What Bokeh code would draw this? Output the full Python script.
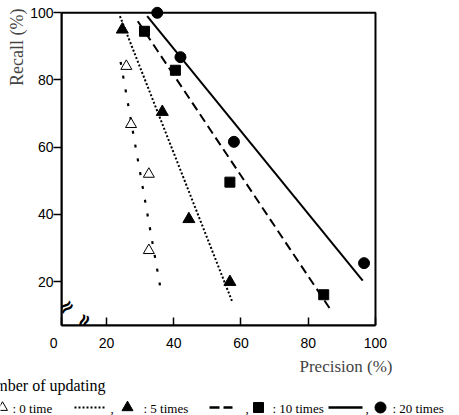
from bokeh.plotting import figure
from bokeh.models import Range1d, FixedTicker, BoxAnnotation, Title
from bokeh.layouts import column
from bokeh.core.properties import value
from bokeh.embed import file_html
from bokeh.resources import INLINE

# ---- data ----
tick_values = [20, 40, 60, 80, 100]
series_names = [": 0 time", ": 5 times", ": 10 times", ": 20 times"]

precision_0 = [25.9, 27.3, 32.6, 32.6]
recall_0 = [84.1, 66.8, 52.0, 29.3]
precision_5 = [24.7, 36.6, 44.5, 56.7]
recall_5 = [95.0, 70.5, 38.6, 19.9]
precision_10 = [31.3, 40.5, 56.7, 84.6]
recall_10 = [94.5, 82.9, 49.6, 16.1]
precision_20 = [35.1, 42.0, 57.9, 96.6]
recall_20 = [100.0, 86.8, 61.6, 25.5]

# fitted lines (end points)
fit_x_0 = [24.2, 36.1]
fit_y_0 = [85.4, 17.8]
fit_x_5 = [24.0, 57.4]
fit_y_5 = [99.0, 14.0]
fit_x_10 = [29.3, 86.4]
fit_y_10 = [97.5, 12.0]
fit_x_20 = [32.1, 96.2]
fit_y_20 = [99.0, 20.3]

# ---- layout ----
X0, X1 = 6.62, 101.49
Y0, Y1 = 6.94, 102.17
SERIF = "Liberation Serif"
SANS = "Liberation Sans"

p = figure(width=459, height=376, x_range=Range1d(X0, X1), y_range=Range1d(Y0, Y1),
           output_backend="svg", toolbar_location=None,
           min_border_left=61, min_border_right=79, min_border_top=5, min_border_bottom=50)
p.outline_line_color = None
p.grid.visible = False
p.title.visible = False
p.frame_align = False

for ax in (p.xaxis, p.yaxis):
    ax.axis_line_width = 2
    ax.axis_line_color = "black"
    ax.axis_line_alpha = 1
    ax.major_tick_line_width = 1.5
    ax.major_tick_line_color = "black"
    ax.minor_tick_line_color = None
    ax.major_label_text_font = SANS
    ax.major_label_text_font_size = "14px"
    ax.major_label_text_color = "black"

p.xaxis.ticker = FixedTicker(ticks=[X0] + tick_values)
p.xaxis.major_label_overrides = {X0: "0\u2007\u2007"}
p.yaxis.ticker = FixedTicker(ticks=tick_values)
p.xaxis.bounds = (X0, 100)
p.yaxis.bounds = (Y0, 100)
p.xaxis.major_tick_in = 8
p.xaxis.major_tick_out = 0
p.xaxis.major_label_standoff = 9
p.yaxis.major_tick_in = 0
p.yaxis.major_tick_out = 8
p.yaxis.major_label_standoff = 0

# axis titles placed like the reference
t_left = Title(text="Recall (%)", align="right", offset=3, text_font=SERIF,
               text_font_size="18px", text_font_style="normal", standoff=2)
p.add_layout(t_left, "left")
t_below = Title(text="Precision (%)", align="right", offset=-12, text_font=SERIF,
                text_font_size="17px", text_font_style="normal", standoff=2)
p.add_layout(t_below, "below")

# frame box (top and right borders)
p.add_layout(BoxAnnotation(left=X0, right=100, bottom=Y0, top=100,
                           fill_alpha=0, line_color="black", line_alpha=1, line_width=2))

# fitted lines
p.line(fit_x_0, fit_y_0, line_color="black", line_width=2.2, line_dash="3 11")
p.line(fit_x_5, fit_y_5, line_color="black", line_width=2, line_dash="2 2")
p.line(fit_x_10, fit_y_10, line_color="black", line_width=2, line_dash="9 5")
p.line(fit_x_20, fit_y_20, line_color="black", line_width=2)

# markers
p.scatter(precision_0, recall_0, marker="triangle", size=11, fill_color="white",
          line_color="black", line_width=1)
p.scatter(precision_5, recall_5, marker="triangle", size=12, fill_color="black",
          line_color="black")
p.scatter(precision_10, recall_10, marker="square", size=10, fill_color="black",
          line_color="black")
p.scatter(precision_20, recall_20, marker="circle", size=11, fill_color="black",
          line_color="black")

# axis breaks
p.text(x=[X0 + 1.3], y=[12.6], text=["≈"], angle=0.6, text_align="center",
       text_baseline="middle", text_font=value("DejaVu Sans"), text_font_size="20px",
       text_font_style="bold", text_color="black")
p.text(x=[13.2], y=[Y0 + 1.3], text=["≈"], angle=1.2, text_align="center",
       text_baseline="middle", text_font=value("DejaVu Sans"), text_font_size="20px",
       text_font_style="bold", text_color="black")

# ---- legend strip ----
leg = figure(width=459, height=39, x_range=Range1d(0, 459), y_range=Range1d(39, 0),
             output_backend="svg", toolbar_location=None, min_border=0,
             x_axis_type=None, y_axis_type=None)
leg.outline_line_color = None
leg.grid.visible = False
leg.frame_align = False

leg.text(x=[105], y=[9], text=["Number of updating"], text_align="right",
         text_baseline="middle", text_font=value(SERIF), text_font_size="16px",
         text_color="black")

ly = 32
leg.text(x=[12, 143, 272, 392], y=[ly] * 4, text=series_names, text_align="left",
         text_baseline="middle", text_font=value(SERIF), text_font_size="13px",
         text_color="black")
leg.text(x=[110, 245, 365], y=[ly] * 3, text=[",", ",", ","], text_align="left",
         text_baseline="middle", text_font=value(SERIF), text_font_size="13px",
         text_color="black")
leg.line([74, 105], [ly - 1, ly - 1], line_color="black", line_width=2, line_dash="2 2")
leg.line([209, 232], [ly - 1, ly - 1], line_color="black", line_width=2.5, line_dash="10 4")
leg.line([328, 362], [ly - 1, ly - 1], line_color="black", line_width=2.5)
leg.scatter([2], [ly - 1], marker="triangle", size=10, fill_color="white", line_color="black")
leg.scatter([127], [ly - 1], marker="triangle", size=11, fill_color="black", line_color="black")
leg.scatter([258], [ly - 1], marker="square", size=10, fill_color="black", line_color="black")
leg.scatter([380], [ly - 1], marker="circle", size=11, fill_color="black", line_color="black")

layout = column(p, leg, spacing=0)
open("out.html", "w").write(file_html(layout, INLINE))
